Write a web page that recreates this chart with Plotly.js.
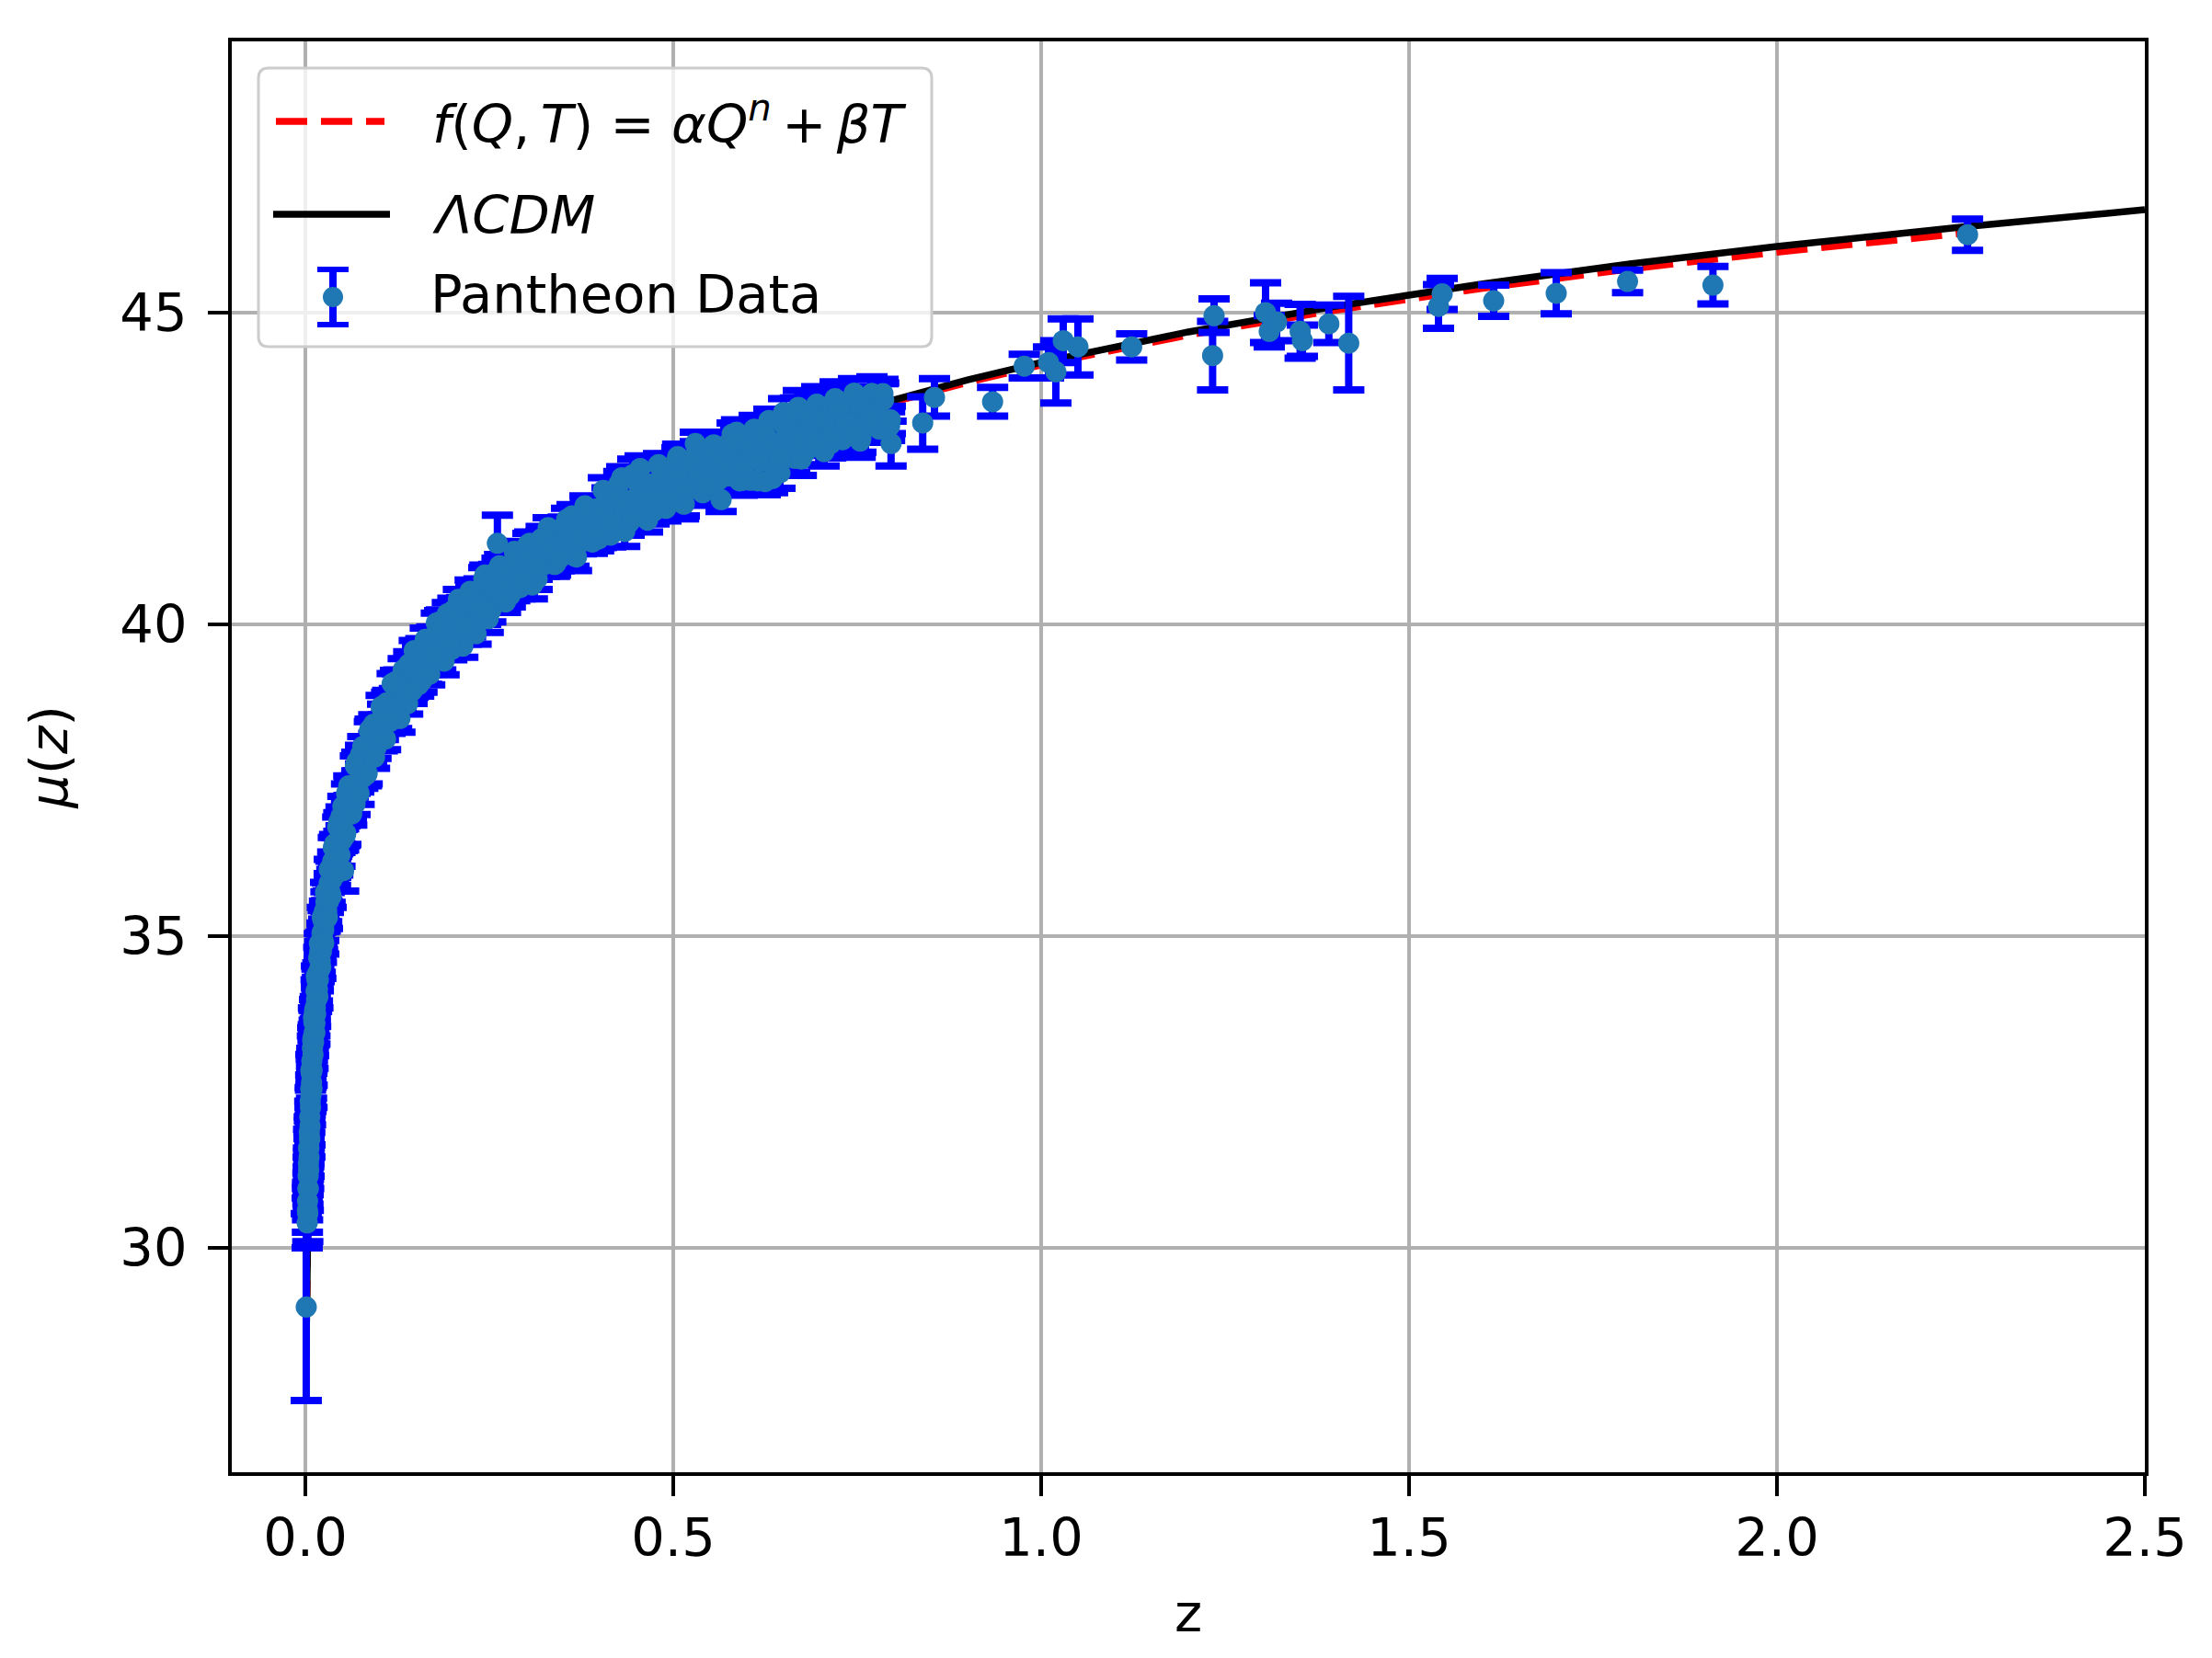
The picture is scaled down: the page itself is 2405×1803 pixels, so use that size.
<!DOCTYPE html>
<html>
<head>
<meta charset="utf-8">
<script src="https://cdn.plot.ly/plotly-3.0.1.min.js"></script>
<style>
  html, body { margin: 0; padding: 0; background: #fff; }
  #chart { width: 2405px; height: 1803px; }
</style>
</head>
<body>
<div id="chart"></div>
<script>
// Pantheon data: redshift, distance modulus, 1-sigma error
var zData = [
  0.0012, 0.0025, 0.0028, 0.003, 0.0033, 0.0035, 0.0038, 0.004, 0.0042, 0.0045,
  0.0048, 0.005, 0.0053, 0.0056, 0.006, 0.0063, 0.0066, 0.007, 0.0073, 0.0077,
  0.008, 0.0084, 0.0088, 0.0092, 0.0096, 0.0045, 0.006, 0.0075, 0.009,
  0.0100, 0.0104, 0.0108, 0.0112, 0.0116, 0.0120, 0.0125, 0.0130, 0.0135, 0.0140,
  0.0146, 0.0152, 0.0158, 0.0164, 0.0170, 0.0176, 0.0182, 0.0188, 0.0195, 0.0202,
  0.0210, 0.0218, 0.0226, 0.0234, 0.0242, 0.0250, 0.0260, 0.0270, 0.0280, 0.0290,
  0.0300, 0.0312, 0.0324, 0.0336, 0.0348, 0.0360, 0.0372, 0.0385,
  0.0398, 0.0412, 0.0426, 0.0440, 0.0455, 0.0470, 0.0485, 0.0500, 0.0520, 0.0540,
  0.0560, 0.0580, 0.0600, 0.0625, 0.0650, 0.0675, 0.0700, 0.0725, 0.0750, 0.0780,
  0.0810, 0.0840, 0.0870, 0.0900, 0.0930, 0.0960, 0.0990, 0.052,
  0.011, 0.013, 0.015, 0.017, 0.019, 0.021, 0.023, 0.025, 0.0275, 0.030,
  0.0325, 0.035, 0.038, 0.041, 0.044, 0.047, 0.051, 0.055, 0.059, 0.063,
  0.068, 0.073, 0.078, 0.083, 0.088, 0.094,
  0.103, 0.106, 0.109, 0.112, 0.115, 0.118, 0.121, 0.124, 0.127, 0.130,
  0.133, 0.136, 0.139, 0.142, 0.145, 0.148, 0.151, 0.154, 0.157, 0.160,
  0.163, 0.166, 0.169, 0.172, 0.175, 0.178, 0.181, 0.184, 0.187, 0.190,
  0.193, 0.196, 0.199, 0.202, 0.205, 0.208, 0.211, 0.214, 0.217, 0.220,
  0.224, 0.228, 0.232, 0.236, 0.240, 0.244, 0.248, 0.252, 0.256, 0.260,
  0.264, 0.268, 0.272, 0.276, 0.280, 0.284, 0.288, 0.292, 0.296, 0.300,
  0.305, 0.310, 0.315, 0.320, 0.325, 0.330, 0.335, 0.340, 0.345, 0.350,
  0.355, 0.360, 0.365, 0.370, 0.375, 0.380, 0.385, 0.390, 0.395, 0.400, 0.261,
  0.1045, 0.1105, 0.1165, 0.1225, 0.1285, 0.1345, 0.1405, 0.1465, 0.1525, 0.1585,
  0.1645, 0.1705, 0.1765, 0.1825, 0.1885, 0.1945, 0.2005, 0.2065, 0.2125, 0.2185,
  0.2245, 0.2305, 0.2365, 0.2425, 0.2485, 0.2545, 0.2605, 0.2665, 0.2725, 0.2785,
  0.2845, 0.2905, 0.2965, 0.3025, 0.3085, 0.3145, 0.3205, 0.3265, 0.3325, 0.3385,
  0.3445, 0.3505, 0.3565, 0.3625, 0.3685, 0.3745, 0.3805, 0.3865, 0.3925, 0.3985,
  0.405, 0.410, 0.415, 0.420, 0.425, 0.430, 0.435, 0.440, 0.445, 0.450,
  0.455, 0.460, 0.465, 0.470, 0.475, 0.480, 0.485, 0.490, 0.495, 0.500,
  0.505, 0.510, 0.515, 0.520, 0.525, 0.530, 0.535, 0.540, 0.545, 0.550,
  0.555, 0.560, 0.565, 0.570, 0.575, 0.580, 0.585, 0.590, 0.595, 0.600,
  0.605, 0.610, 0.615, 0.620, 0.625, 0.630, 0.635, 0.640, 0.645, 0.650,
  0.655, 0.660, 0.665, 0.670, 0.675, 0.680, 0.685, 0.690, 0.695, 0.700,
  0.705, 0.710, 0.715, 0.720, 0.725, 0.730, 0.735, 0.740, 0.745, 0.750,
  0.755, 0.760, 0.765, 0.770, 0.775, 0.780, 0.785, 0.790, 0.796,
  0.402, 0.410, 0.418, 0.426, 0.434, 0.442, 0.450, 0.458, 0.466, 0.474,
  0.482, 0.490, 0.498, 0.506, 0.514, 0.522, 0.530, 0.538, 0.546, 0.554,
  0.562, 0.570, 0.578, 0.586, 0.594, 0.602, 0.610, 0.618, 0.626, 0.634,
  0.642, 0.650, 0.658, 0.666, 0.674, 0.682, 0.690, 0.698, 0.706, 0.714,
  0.722, 0.730, 0.738, 0.746, 0.754, 0.762, 0.770, 0.778, 0.786, 0.794,
  0.105, 0.115, 0.125, 0.135, 0.145, 0.155, 0.165, 0.175, 0.185, 0.195,
  0.205, 0.215, 0.225, 0.235, 0.245, 0.255, 0.265, 0.275, 0.285, 0.295,
  0.305, 0.315, 0.325, 0.335, 0.345, 0.355, 0.365, 0.375, 0.385, 0.395,
  0.405, 0.415, 0.425, 0.435, 0.445, 0.455, 0.465, 0.475, 0.485, 0.495,
  0.505, 0.515, 0.525, 0.535, 0.545, 0.555, 0.565, 0.575, 0.585, 0.595,
  0.605, 0.615, 0.625, 0.635, 0.645, 0.655, 0.665, 0.675, 0.685, 0.695,
  0.705, 0.715, 0.725, 0.735, 0.745, 0.755, 0.765, 0.775, 0.785, 0.795,
  0.839, 0.855, 0.934, 0.977, 1.010, 1.020, 1.030, 1.050, 1.123, 1.235,
  1.233, 1.305, 1.310, 1.320, 1.352, 1.355, 1.391, 1.418, 1.540, 1.545,
  1.615, 1.700, 1.797, 1.913, 2.259
];
var muData = [
  29.05, 30.40, 30.60, 30.75, 30.55, 30.95, 31.15, 30.95, 31.35, 31.25,
  31.60, 31.45, 31.85, 31.75, 32.10, 31.95, 32.35, 32.25, 32.55, 32.45,
  32.80, 32.65, 33.00, 32.85, 33.20, 31.60, 31.75, 32.85, 32.55,
  33.33, 33.10, 33.38, 33.30, 33.62, 33.45, 33.80, 33.60, 33.85, 33.75,
  34.12, 33.98, 34.30, 34.15, 34.40, 34.30, 34.65, 34.45, 34.75, 34.60,
  34.90, 34.75, 35.05, 34.95, 35.25, 35.10, 35.40, 35.25, 35.55, 35.40,
  35.70, 35.55, 35.85, 35.70, 36.05, 35.90, 36.20, 36.00,
  36.48, 36.10, 36.43, 36.15, 36.83, 36.50, 36.92, 36.54, 36.87, 36.61,
  37.29, 36.97, 37.40, 37.04, 37.38, 37.12, 37.80, 37.48, 37.91, 37.54,
  37.88, 37.61, 38.29, 37.97, 38.40, 38.02, 38.35, 36.05,
  33.69, 33.45, 34.36, 34.03, 34.88, 34.50, 35.30, 34.89, 35.70, 35.30,
  36.07, 35.64, 36.42, 35.99, 36.75, 36.30, 37.08, 36.65, 37.41, 36.96,
  37.73, 37.29, 38.04, 37.59, 38.32, 37.87,
  38.68, 38.35, 38.16, 38.72, 38.44, 39.05, 38.76, 38.51, 39.07, 38.77,
  39.27, 38.93, 38.73, 39.28, 38.98, 39.58, 39.28, 39.03, 39.57, 39.27,
  39.76, 39.40, 39.20, 39.74, 39.43, 40.02, 39.71, 39.45, 39.99, 39.68,
  40.17, 39.81, 39.60, 40.13, 39.82, 40.40, 40.09, 39.65, 40.36, 40.04,
  40.53, 40.17, 39.85, 40.51, 40.20, 40.79, 40.48, 40.22, 40.76, 40.45,
  40.94, 40.57, 40.36, 40.89, 40.58, 41.17, 40.85, 40.59, 41.12, 40.81,
  41.30, 40.94, 40.73, 41.27, 40.96, 41.55, 41.23, 40.97, 41.51, 41.20,
  41.68, 41.32, 41.10, 41.64, 41.32, 41.90, 41.58, 41.32, 41.85, 41.53, 41.30,
  38.16, 38.74, 38.62, 39.08, 38.49, 39.05, 39.36, 39.01, 39.40, 39.10,
  39.23, 39.77, 39.60, 40.04, 39.41, 39.94, 40.22, 39.84, 40.20, 39.87,
  39.99, 40.50, 40.31, 40.73, 40.09, 40.60, 40.86, 40.46, 40.82, 40.47,
  40.57, 41.07, 40.88, 41.28, 40.63, 41.12, 41.37, 40.97, 41.31, 40.96,
  41.05, 41.55, 41.34, 41.74, 41.08, 41.57, 41.80, 41.39, 41.73, 41.37,
  42.15, 41.65, 41.43, 42.10, 41.64, 42.35, 41.90, 41.63, 42.40, 41.84,
  42.50, 41.94, 41.67, 42.25, 41.93, 42.56, 42.18, 41.86, 42.48, 42.11,
  42.63, 42.21, 41.93, 42.51, 42.18, 42.90, 42.43, 42.11, 42.73, 42.36,
  42.88, 42.46, 42.00, 42.76, 42.38, 43.05, 42.67, 42.30, 42.97, 42.59,
  42.31, 43.13, 42.30, 42.92, 42.29, 43.27, 42.34, 42.91, 42.43, 43.40,
  42.77, 43.19, 42.66, 43.48, 43.05, 42.77, 43.39, 42.96, 43.53, 43.10,
  42.77, 43.49, 43.00, 43.62, 43.24, 42.96, 43.52, 43.14, 43.66, 43.23,
  42.99, 43.56, 43.18, 43.70, 43.41, 43.13, 43.60, 43.21, 42.90,
  41.44, 42.00, 41.75, 42.25, 41.49, 41.99, 42.29, 41.83, 42.23, 41.82,
  41.92, 42.46, 42.20, 42.69, 41.93, 42.42, 42.71, 42.25, 42.64, 42.23,
  42.32, 42.86, 42.59, 43.08, 42.31, 42.80, 43.08, 42.61, 43.00, 42.58,
  42.67, 43.20, 42.93, 43.41, 42.65, 43.13, 43.41, 42.94, 43.32, 42.90,
  42.98, 43.51, 43.23, 43.71, 42.94, 43.42, 43.70, 43.22, 43.60, 43.18,
  38.53, 38.49, 39.03, 38.96, 38.93, 39.49, 39.49, 39.53, 40.02, 39.70,
  40.12, 39.98, 40.44, 40.30, 40.20, 40.70, 40.65, 40.64, 41.08, 40.72,
  41.10, 40.93, 41.36, 41.18, 41.06, 41.53, 41.45, 41.42, 41.83, 41.45,
  41.81, 41.63, 42.04, 41.85, 41.71, 42.17, 42.07, 42.03, 42.43, 42.03,
  42.38, 42.18, 42.58, 42.38, 42.23, 42.68, 42.58, 42.53, 42.92, 42.52,
  42.86, 42.65, 43.04, 42.84, 42.68, 43.12, 43.01, 42.95, 43.34, 42.93,
  43.27, 43.05, 43.44, 43.22, 43.06, 43.49, 43.38, 43.31, 43.70, 43.28,
  43.23, 43.64, 43.57, 44.14, 44.20, 44.05, 44.55, 44.45, 44.45, 44.95,
  44.31, 45.00, 44.70, 44.85, 44.70, 44.55, 44.82, 44.51, 45.10, 45.30,
  45.19, 45.31, 45.50, 45.44, 46.25
];
var errData = [
  1.50, 0.40, 0.35, 0.30, 0.45, 0.25, 0.30, 0.35, 0.25, 0.30,
  0.25, 0.30, 0.25, 0.28, 0.25, 0.30, 0.22, 0.28, 0.22, 0.26,
  0.22, 0.25, 0.20, 0.24, 0.20, 0.30, 0.30, 0.25, 0.30,
  0.20, 0.22, 0.20, 0.22, 0.19, 0.20, 0.18, 0.20, 0.18, 0.20,
  0.18, 0.19, 0.17, 0.19, 0.17, 0.18, 0.17, 0.18, 0.16, 0.18,
  0.16, 0.17, 0.16, 0.17, 0.16, 0.17, 0.16, 0.17, 0.16, 0.17,
  0.15, 0.17, 0.15, 0.16, 0.15, 0.17, 0.15, 0.16,
  0.15, 0.16, 0.15, 0.17, 0.15, 0.16, 0.15, 0.17, 0.15, 0.16,
  0.15, 0.17, 0.15, 0.17, 0.15, 0.17, 0.15, 0.17, 0.15, 0.17,
  0.15, 0.17, 0.15, 0.17, 0.15, 0.17, 0.15, 0.33,
  0.16, 0.18, 0.16, 0.18, 0.16, 0.18, 0.16, 0.18, 0.16, 0.18,
  0.16, 0.18, 0.16, 0.18, 0.16, 0.18, 0.16, 0.18, 0.16, 0.18,
  0.16, 0.18, 0.16, 0.18, 0.16, 0.18,
  0.18, 0.20, 0.17, 0.22, 0.19, 0.16, 0.21, 0.18, 0.20, 0.17,
  0.18, 0.20, 0.17, 0.22, 0.19, 0.16, 0.21, 0.18, 0.20, 0.17,
  0.18, 0.20, 0.17, 0.22, 0.19, 0.16, 0.21, 0.18, 0.20, 0.17,
  0.18, 0.20, 0.17, 0.22, 0.19, 0.16, 0.21, 0.18, 0.20, 0.17,
  0.18, 0.20, 0.17, 0.22, 0.19, 0.16, 0.21, 0.18, 0.20, 0.17,
  0.18, 0.20, 0.17, 0.22, 0.19, 0.16, 0.21, 0.18, 0.20, 0.17,
  0.18, 0.20, 0.17, 0.22, 0.19, 0.16, 0.21, 0.18, 0.20, 0.17,
  0.18, 0.20, 0.17, 0.22, 0.19, 0.16, 0.21, 0.18, 0.20, 0.17, 0.45,
  0.19, 0.17, 0.21, 0.18, 0.22, 0.16, 0.20, 0.18, 0.23, 0.19,
  0.19, 0.17, 0.21, 0.18, 0.22, 0.16, 0.20, 0.18, 0.23, 0.19,
  0.19, 0.17, 0.21, 0.18, 0.22, 0.16, 0.20, 0.18, 0.23, 0.19,
  0.19, 0.17, 0.21, 0.18, 0.22, 0.16, 0.20, 0.18, 0.23, 0.19,
  0.19, 0.17, 0.21, 0.18, 0.22, 0.16, 0.20, 0.18, 0.23, 0.19,
  0.20, 0.22, 0.19, 0.24, 0.21, 0.18, 0.23, 0.20, 0.25, 0.22,
  0.20, 0.22, 0.19, 0.24, 0.21, 0.18, 0.23, 0.20, 0.25, 0.22,
  0.20, 0.22, 0.19, 0.24, 0.21, 0.18, 0.23, 0.20, 0.25, 0.22,
  0.20, 0.22, 0.19, 0.24, 0.21, 0.18, 0.23, 0.20, 0.25, 0.22,
  0.20, 0.22, 0.19, 0.24, 0.21, 0.18, 0.23, 0.20, 0.25, 0.22,
  0.23, 0.25, 0.22, 0.27, 0.24, 0.21, 0.26, 0.23, 0.28, 0.25,
  0.23, 0.25, 0.22, 0.27, 0.24, 0.21, 0.26, 0.23, 0.28, 0.25,
  0.23, 0.25, 0.22, 0.27, 0.24, 0.21, 0.26, 0.23, 0.36,
  0.21, 0.19, 0.23, 0.20, 0.24, 0.18, 0.22, 0.20, 0.25, 0.21,
  0.21, 0.19, 0.23, 0.20, 0.24, 0.18, 0.22, 0.20, 0.25, 0.21,
  0.21, 0.19, 0.23, 0.20, 0.24, 0.18, 0.22, 0.20, 0.25, 0.21,
  0.23, 0.21, 0.25, 0.22, 0.26, 0.20, 0.24, 0.22, 0.27, 0.23,
  0.23, 0.21, 0.25, 0.22, 0.26, 0.20, 0.24, 0.22, 0.27, 0.23,
  0.19, 0.21, 0.18, 0.22, 0.20, 0.17, 0.23, 0.19, 0.21, 0.20,
  0.19, 0.21, 0.18, 0.22, 0.20, 0.17, 0.23, 0.19, 0.21, 0.20,
  0.19, 0.21, 0.18, 0.22, 0.20, 0.17, 0.23, 0.19, 0.21, 0.20,
  0.19, 0.21, 0.18, 0.22, 0.20, 0.17, 0.23, 0.19, 0.21, 0.20,
  0.19, 0.21, 0.18, 0.22, 0.20, 0.17, 0.23, 0.19, 0.21, 0.20,
  0.21, 0.23, 0.20, 0.24, 0.22, 0.19, 0.25, 0.21, 0.23, 0.22,
  0.21, 0.23, 0.20, 0.24, 0.22, 0.19, 0.25, 0.21, 0.23, 0.22,
  0.42, 0.30, 0.23, 0.19, 0.25, 0.50, 0.35, 0.45, 0.21, 0.27,
  0.55, 0.48, 0.25, 0.30, 0.43, 0.25, 0.30, 0.75, 0.35, 0.25,
  0.25, 0.33, 0.18, 0.30, 0.25
];

// model curves
var zLCDM = [0.001, 0.002, 0.003, 0.005, 0.0075, 0.01, 0.015, 0.02, 0.03, 0.04,
  0.05, 0.07, 0.1, 0.14, 0.2, 0.26, 0.3, 0.4, 0.5, 0.6,
  0.7, 0.8, 0.9, 1.0, 1.2, 1.4, 1.6, 1.8, 2.0, 2.25, 2.5];
var muLCDM = [28.26, 29.77, 30.65, 31.76, 32.65, 33.28, 34.17, 34.80, 35.70, 36.34,
  36.84, 37.60, 38.42, 39.20, 40.06, 40.70, 41.06, 41.78, 42.36, 42.84,
  43.25, 43.60, 43.92, 44.20, 44.69, 45.10, 45.46, 45.78, 46.06, 46.37, 46.65];
var zFQT = [0.001, 0.002, 0.003, 0.005, 0.0075, 0.01, 0.015, 0.02, 0.03, 0.04,
  0.05, 0.07, 0.1, 0.14, 0.2, 0.26, 0.3, 0.4, 0.5, 0.6,
  0.7, 0.8, 0.9, 1.0, 1.2, 1.4, 1.6, 1.8, 2.0, 2.26];
var muFQT = [28.25, 29.76, 30.64, 31.75, 32.64, 33.27, 34.16, 34.79, 35.69, 36.33,
  36.83, 37.59, 38.41, 39.19, 40.05, 40.69, 41.05, 41.77, 42.34, 42.82,
  43.22, 43.57, 43.88, 44.16, 44.64, 45.04, 45.39, 45.70, 45.97, 46.28];

var xTicks = [0.0, 0.5, 1.0, 1.5, 2.0, 2.5];
var yTicks = [30, 35, 40, 45];

var FONT = 'DejaVu Sans';
var FS = 57.5;

var traceFQT = {
  x: zFQT, y: muFQT, type: 'scatter', mode: 'lines',
  name: 'f(Q,T)', showlegend: false,
  line: { color: 'red', width: 7.5, dash: '34px,15px' }
};
var traceLCDM = {
  x: zLCDM, y: muLCDM, type: 'scatter', mode: 'lines',
  name: 'ΛCDM', showlegend: false,
  line: { color: 'black', width: 7.5 }
};
var traceData = {
  x: zData, y: muData, type: 'scatter', mode: 'markers',
  name: 'Pantheon Data', showlegend: false,
  marker: { color: '#1f77b4', size: 23 },
  error_y: { type: 'data', array: errData, visible: true, color: 'blue', thickness: 8, width: 17 }
};

// legend drawn by hand (paper coords of the plot area)
function px(X) { return (X - 252) / 2080; }
function py(Y) { return 1 - (Y - 45) / 1556; }
var bx0 = px(281), bx1 = px(1013), by0 = py(377), by1 = py(74);
var rx = 11 / 2080, ry = 11 / 1556;
var boxPath = 'M' + (bx0 + rx) + ',' + by0 + ' L' + (bx1 - rx) + ',' + by0 +
  ' Q' + bx1 + ',' + by0 + ' ' + bx1 + ',' + (by0 + ry) +
  ' L' + bx1 + ',' + (by1 - ry) + ' Q' + bx1 + ',' + by1 + ' ' + (bx1 - rx) + ',' + by1 +
  ' L' + (bx0 + rx) + ',' + by1 + ' Q' + bx0 + ',' + by1 + ' ' + bx0 + ',' + (by1 - ry) +
  ' L' + bx0 + ',' + (by0 + ry) + ' Q' + bx0 + ',' + by0 + ' ' + (bx0 + rx) + ',' + by0 + ' Z';

var shapes = [
  { type: 'path', xref: 'paper', yref: 'paper', path: boxPath, layer: 'above',
    fillcolor: 'rgba(255,255,255,0.8)', line: { color: '#cccccc', width: 3 } },
  { type: 'line', xref: 'paper', yref: 'paper', layer: 'above',
    x0: px(300), x1: px(418), y0: py(132), y1: py(132),
    line: { color: 'red', width: 7.5, dash: '34px,15px' } },
  { type: 'line', xref: 'paper', yref: 'paper', layer: 'above',
    x0: px(297), x1: px(424), y0: py(233), y1: py(233),
    line: { color: 'black', width: 7.5 } },
  { type: 'line', xref: 'paper', yref: 'paper', layer: 'above',
    x0: px(362), x1: px(362), y0: py(293), y1: py(353),
    line: { color: 'blue', width: 8 } },
  { type: 'line', xref: 'paper', yref: 'paper', layer: 'above',
    x0: px(345), x1: px(379), y0: py(293), y1: py(293),
    line: { color: 'blue', width: 6 } },
  { type: 'line', xref: 'paper', yref: 'paper', layer: 'above',
    x0: px(345), x1: px(379), y0: py(353), y1: py(353),
    line: { color: 'blue', width: 6 } },
  { type: 'circle', xref: 'paper', yref: 'paper', layer: 'above',
    x0: px(351), x1: px(373), y0: py(334), y1: py(312),
    fillcolor: '#1f77b4', line: { width: 0 } }
];

var annotations = [
  { xref: 'paper', yref: 'paper', x: px(468), y: py(131), xanchor: 'left', yanchor: 'middle',
    showarrow: false, font: { family: FONT, size: FS, color: 'black' },
    text: '<i>f</i>(<i>Q</i>,\u2009<i>T</i>) = <i>αQ</i><sup><i>n</i></sup>\u2009+\u2009<i>βT</i>' },
  { xref: 'paper', yref: 'paper', x: px(468), y: py(234), xanchor: 'left', yanchor: 'middle',
    showarrow: false, font: { family: FONT, size: FS, color: 'black' },
    text: '<i>ΛCDM</i>' },
  { xref: 'paper', yref: 'paper', x: px(466), y: py(320), xanchor: 'left', yanchor: 'middle',
    showarrow: false, font: { family: FONT, size: FS, color: 'black' },
    text: 'Pantheon Data' }
];

var layout = {
  width: 2405, height: 1803,
  margin: { l: 252, r: 73, t: 45, b: 202 },
  paper_bgcolor: 'white', plot_bgcolor: 'white',
  font: { family: FONT, size: FS, color: 'black' },
  showlegend: false,
  xaxis: {
    range: [-0.1, 2.5], tickvals: xTicks, tickformat: '.1f',
    ticks: 'outside', ticklen: 22, tickwidth: 4, tickcolor: 'black',
    ticklabelstandoff: -4,
    showline: true, linecolor: 'black', linewidth: 4, mirror: true,
    showgrid: true, gridcolor: '#b0b0b0', gridwidth: 4, zeroline: false,
    tickfont: { family: FONT, size: FS, color: 'black' },
    title: { text: 'z', font: { family: FONT, size: FS, color: 'black' }, standoff: 30 },
    automargin: false
  },
  yaxis: {
    range: [26.4, 49.35], tickvals: yTicks,
    ticks: 'outside', ticklen: 22, tickwidth: 4, tickcolor: 'black',
    ticklabelstandoff: 11,
    showline: true, linecolor: 'black', linewidth: 4, mirror: true,
    showgrid: true, gridcolor: '#b0b0b0', gridwidth: 4, zeroline: false,
    tickfont: { family: FONT, size: FS, color: 'black' },
    title: { text: '<i>μ</i>(<i>z</i>)', font: { family: FONT, size: FS, color: 'black' }, standoff: 39 },
    automargin: false
  },
  shapes: shapes,
  annotations: annotations
};

Plotly.newPlot('chart', [traceFQT, traceLCDM, traceData], layout, { staticPlot: true, displayModeBar: false });
</script>
</body>
</html>
